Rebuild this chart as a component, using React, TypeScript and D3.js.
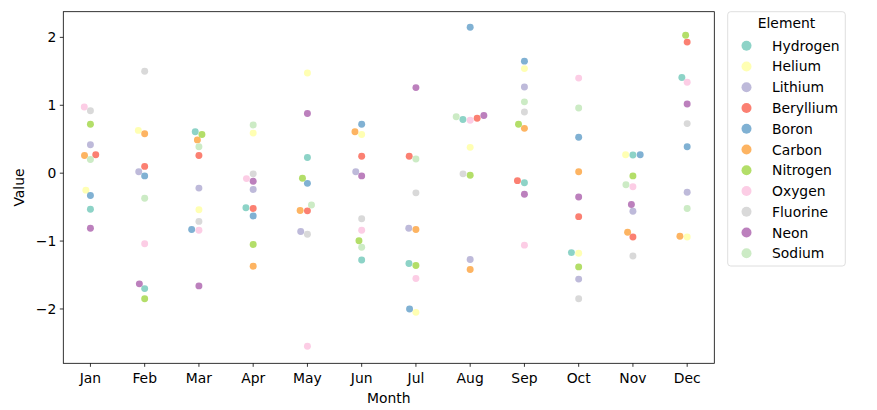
import React from "react";
import * as d3 from "d3";

const months = ["Jan", "Feb", "Mar", "Apr", "May", "Jun", "Jul", "Aug", "Sep", "Oct", "Nov", "Dec"];
const elements = ["Hydrogen", "Helium", "Lithium", "Beryllium", "Boron", "Carbon", "Nitrogen", "Oxygen", "Fluorine", "Neon", "Sodium"];
const colors = ["#8dd3c7", "#ffffb3", "#bebada", "#fb8072", "#80b1d3", "#fdb462", "#b3de69", "#fccde5", "#d9d9d9", "#bc80bd", "#ccebc5"];

const hydrogen = [-0.53, -1.70, 0.61, -0.51, 0.23, -1.28, -1.33, 0.79, -0.14, -1.17, 0.268, 1.41];
const helium = [-0.25, 0.63, -0.54, 0.59, 1.475, 0.57, -2.05, 0.38, 1.54, -1.18, 0.27, -0.94];
const lithium = [0.42, 0.02, -0.22, -0.24, -0.86, 0.02, -0.81, -1.27, 1.27, -1.56, -0.56, -0.28];
const beryllium = [0.27, 0.10, 0.26, -0.52, -0.555, 0.25, 0.25, 0.81, -0.11, -0.64, -0.94, 1.93];
const boron = [-0.33, -0.04, -0.83, -0.63, -0.15, 0.72, -2.00, 2.15, 1.65, 0.53, 0.272, 0.39];
const carbon = [0.26, 0.58, 0.49, -1.37, -0.55, 0.61, -0.83, -1.42, 0.66, 0.02, -0.87, -0.93];
const nitrogen = [0.72, -1.85, 0.57, -1.05, -0.075, -0.995, -1.36, -0.03, 0.72, -1.38, -0.04, 2.03];
const oxygen = [0.975, -1.04, -0.84, -0.08, -2.55, -0.84, -1.55, 0.78, -1.06, 1.40, -0.20, 1.34];
const fluorine = [0.92, 1.50, -0.71, -0.01, -0.90, -0.67, -0.29, -0.01, 0.90, -1.85, -1.22, 0.73];
const neon = [-0.81, -1.63, -1.66, -0.12, 0.88, -0.04, 1.26, 0.85, -0.31, -0.35, -0.46, 1.02];
const sodium = [0.20, -0.37, 0.39, 0.71, -0.47, -1.09, 0.21, 0.83, 1.05, 0.96, -0.17, -0.52];

const seriesValues = [hydrogen, helium, lithium, beryllium, boron, carbon, nitrogen, oxygen, fluorine, neon, sodium];
const yTicks = [-2, -1, 0, 1, 2];

const W = 877, H = 410;
const L = 63.3, R = 714.3, T = 11.7, B = 363.3;
const RADIUS = 2.5 * 100 / 72;
const FONT = "DejaVu Sans, sans-serif";
const FS = 13.9;

type P = { x: number; y: number; r: number; el: number };

function beeswarm(pts: P[], mid: number): P[] {
  // seaborn-style: sort ascending by value (descending pixel y)
  const sorted = [...pts].sort((a, b) => b.y - a.y);
  const swarm: P[] = [];
  sorted.forEach((p, idx) => {
    if (idx === 0) { swarm.push({ ...p, x: mid }); return; }
    const neighbors: P[] = [];
    for (let j = swarm.length - 1; j >= 0; j--) {
      const q = swarm[j];
      if (q.y - p.y < p.r + q.r) neighbors.push(q); else break;
    }
    const cands: P[] = [{ ...p, x: mid }];
    let leftFirst = true;
    neighbors.forEach((q) => {
      const dy = p.y - q.y;
      const dx = Math.sqrt(Math.max((p.r + q.r) ** 2 - dy * dy, 0)) * 1.05;
      const cl = { ...p, x: q.x - dx };
      const cr = { ...p, x: q.x + dx };
      if (leftFirst) cands.push(cl, cr); else cands.push(cr, cl);
      leftFirst = !leftFirst;
    });
    const ordered = cands.map((c, i) => ({ c, i, o: Math.round(Math.abs(c.x - mid) * 1e6) / 1e6 }))
      .sort((a, b) => a.o - b.o || a.i - b.i).map((d) => d.c);
    let chosen = ordered[0];
    if (neighbors.length) {
      for (const c of ordered) {
        const ok = neighbors.every((q) => (q.x - c.x) ** 2 + (q.y - c.y) ** 2 >= (q.r + c.r) ** 2);
        if (ok) { chosen = c; break; }
      }
    }
    swarm.push(chosen);
  });
  return swarm;
}

export default function App() {
  const x = d3.scaleBand<string>().domain(months).range([L, R]).padding(0);
  const y = d3.scaleLinear().domain([-2.80, 2.378]).range([B, T]);

  const points: P[] = [];
  months.forEach((m, mi) => {
    const mid = (x(m) as number) + x.bandwidth() / 2;
    const raw: P[] = seriesValues.map((vals, ei) => ({ x: mid, y: y(vals[mi]), r: RADIUS, el: ei }));
    const placed = beeswarm(raw, mid);
    placed.sort((a, b) => a.el - b.el);
    points.push(...placed);
  });

  const legX = 727.7, legY = 11.7, legW = 117.6, legH = 254.3;

  return (
    <svg width={W} height={H} style={{ display: "block", position: "absolute", left: 0, top: 0 }} fontFamily={FONT}>
      <rect x={0} y={0} width={W} height={H} fill="#fff" />
      {points.map((p, i) => (
        <circle key={i} cx={p.x} cy={p.y} r={p.r} fill={colors[p.el]} />
      ))}
      <rect x={L} y={T} width={R - L} height={B - T} fill="none" stroke="#000" strokeWidth={0.8} />
      {months.map((m) => {
        const cx = (x(m) as number) + x.bandwidth() / 2;
        return (
          <g key={m}>
            <line x1={cx} x2={cx} y1={B} y2={B + 3.5} stroke="#000" strokeWidth={0.8} />
            <text x={cx} y={B + 15} fontSize={FS} textAnchor="middle" dominantBaseline="central" fill="#000">{m}</text>
          </g>
        );
      })}
      {yTicks.map((t) => (
        <g key={t}>
          <line x1={L - 3.5} x2={L} y1={y(t)} y2={y(t)} stroke="#000" strokeWidth={0.8} />
          <text x={L - 7} y={y(t)} fontSize={FS} textAnchor="end" dominantBaseline="central" fill="#000">
            {t < 0 ? "\u2212" + Math.abs(t) : String(t)}
          </text>
        </g>
      ))}
      <text x={(L + R) / 2} y={398} fontSize={FS} textAnchor="middle" dominantBaseline="central">Month</text>
      <text x={18.5} y={(T + B) / 2} fontSize={FS} textAnchor="middle" dominantBaseline="central"
        transform={`rotate(-90, 18.5, ${(T + B) / 2})`}>Value</text>
      <rect x={legX} y={legY} width={legW} height={legH} rx={3} ry={3} fill="#fff" fillOpacity={0.8} stroke="#d5d5d5" strokeWidth={0.8} />
      <text x={legX + legW / 2} y={22.5} fontSize={FS} textAnchor="middle" dominantBaseline="central">Element</text>
      {elements.map((e, i) => {
        const cy = 45.7 + i * 20.76;
        return (
          <g key={e}>
            <circle cx={746.5} cy={cy} r={5} fill={colors[i]} />
            <text x={772} y={cy} fontSize={FS} dominantBaseline="central">{e}</text>
          </g>
        );
      })}
    </svg>
  );
}
